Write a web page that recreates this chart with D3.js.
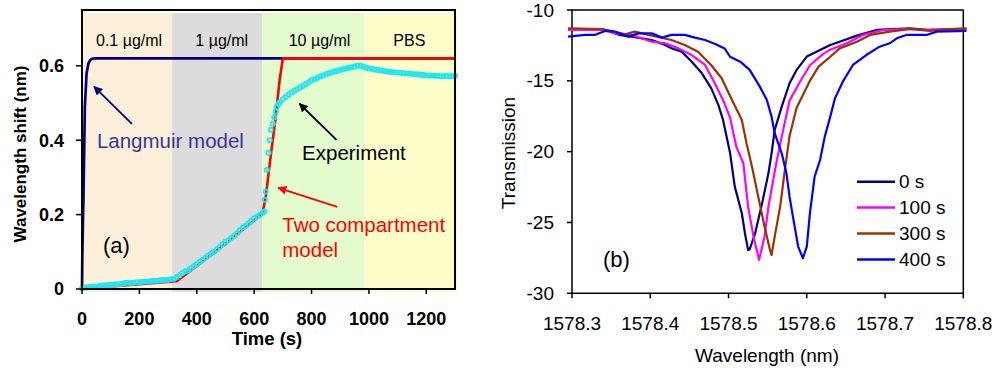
<!DOCTYPE html>
<html>
<head>
  <meta charset="UTF-8">
  <style>
    body { margin: 0; background: white; }
    svg { display: block; font-family: "Liberation Sans", Arial, sans-serif; }
    .frame { fill: none; stroke: black; }
    .tick { stroke: black; stroke-width: 1.5; }
  </style>
</head>
<body>
<svg id="chart" width="995" height="368"></svg>

<script src="https://d3js.org/d3.v7.min.js"></script>
<script>

// ---- panel (a) data ----
let timeTicks = [0, 200, 400, 600, 800, 1000, 1200];
let shiftTicks = [0, 0.2, 0.4, 0.6];

let phaseNames = ["0.1 \u00b5g/ml", "1 \u00b5g/ml", "10 \u00b5g/ml", "PBS"];
let phaseStart = [0, 314, 628, 984];
let phaseEnd = [314, 628, 984, 1308];
let phaseLabelTime = [164, 487, 828, 1141];

let langTime = [0, 1, 3, 5, 10, 16, 22, 28, 35, 45, 60, 1300];
let langShift = [0, 0.08, 0.17, 0.24, 0.49, 0.58, 0.605, 0.615, 0.619, 0.62, 0.62, 0.62];

let twoTime = [0, 100, 200, 330, 400, 500, 600, 628, 640, 656, 674, 689, 700, 1300];
let twoShift = [0, 0.007, 0.013, 0.021, 0.062, 0.121, 0.184, 0.202, 0.245, 0.347, 0.455, 0.563, 0.62, 0.62];

let expTime = [0, 10, 20, 30, 40, 50, 60, 70, 80, 90, 100, 110, 120, 130, 140, 150, 160, 170, 180, 190,
  200, 210, 220, 230, 240, 250, 260, 270, 280, 290, 300, 310, 320,
  330, 340, 350, 360, 370, 380, 390, 400, 410, 420, 430, 440, 450, 460, 470, 480, 490,
  500, 510, 520, 530, 540, 550, 560, 570, 580, 590, 600, 610, 620, 630, 635,
  637, 640, 644, 650, 654, 658, 665, 670, 675, 679,
  685, 690, 700, 710, 720, 730, 740, 750, 760, 770, 780, 790, 800, 810, 820, 830, 840, 850,
  860, 870, 880, 890, 900, 910, 920, 930, 940, 950, 960, 970, 980, 990, 1000, 1010, 1020,
  1030, 1040, 1050, 1060, 1070, 1080, 1090, 1100, 1110, 1120, 1130, 1140, 1150, 1160, 1170,
  1180, 1190, 1200, 1210, 1220, 1230, 1240, 1250, 1260, 1270, 1280, 1290, 1300];
let expShift = [0.002, 0.004, 0.005, 0.006, 0.007, 0.007, 0.008, 0.009, 0.010, 0.010, 0.011, 0.012, 0.013, 0.013, 0.014, 0.016, 0.017, 0.016, 0.017, 0.018,
  0.018, 0.019, 0.020, 0.020, 0.021, 0.022, 0.022, 0.023, 0.024, 0.024, 0.025, 0.026, 0.027,
  0.032, 0.037, 0.043, 0.048, 0.050, 0.056, 0.062, 0.067, 0.073, 0.078, 0.084, 0.090, 0.096, 0.101, 0.107, 0.113, 0.120,
  0.127, 0.131, 0.137, 0.143, 0.150, 0.158, 0.165, 0.170, 0.176, 0.183, 0.190, 0.195, 0.199, 0.205, 0.208,
  0.240, 0.262, 0.320, 0.366, 0.400, 0.428, 0.444, 0.462, 0.477, 0.489,
  0.497, 0.503, 0.510, 0.516, 0.522, 0.528, 0.533, 0.537, 0.542, 0.546, 0.551, 0.556, 0.561, 0.564, 0.567, 0.571, 0.574, 0.577,
  0.580, 0.582, 0.585, 0.587, 0.589, 0.591, 0.593, 0.595, 0.596, 0.598, 0.600, 0.600, 0.598, 0.595, 0.593, 0.592, 0.590,
  0.589, 0.588, 0.587, 0.585, 0.584, 0.583, 0.582, 0.582, 0.581, 0.580, 0.579, 0.579, 0.578, 0.577, 0.577,
  0.576, 0.575, 0.574, 0.574, 0.573, 0.573, 0.573, 0.572, 0.572, 0.573, 0.572, 0.572, 0.573];

// ---- panel (b) data ----
let wlTicks = [1578.3, 1578.4, 1578.5, 1578.6, 1578.7, 1578.8];
let trTicks = [-10, -15, -20, -25, -30];
let specNames = ["0 s", "100 s", "300 s", "400 s"];

let wl0 = [1578.295, 1578.342, 1578.360, 1578.376, 1578.402, 1578.419, 1578.427, 1578.440, 1578.453, 1578.466, 1578.478, 1578.487, 1578.493, 1578.502, 1578.508, 1578.517, 1578.521, 1578.525, 1578.527, 1578.534, 1578.542, 1578.551, 1578.555, 1578.559, 1578.568, 1578.578, 1578.587, 1578.600, 1578.617, 1578.630, 1578.642, 1578.664, 1578.689, 1578.732, 1578.757, 1578.780, 1578.804];
let tr0 = [-11.34, -11.41, -11.75, -11.88, -12.12, -12.47, -12.70, -12.94, -13.65, -14.47, -15.53, -16.70, -17.76, -20.10, -22.47, -24.35, -25.76, -26.94, -26.90, -25.76, -23.88, -21.53, -20.12, -18.47, -16.82, -15.17, -14.23, -13.29, -12.82, -12.47, -12.24, -11.81, -11.41, -11.29, -11.41, -11.36, -11.34];

let wl100 = [1578.295, 1578.342, 1578.355, 1578.376, 1578.402, 1578.419, 1578.436, 1578.453, 1578.470, 1578.480, 1578.493, 1578.502, 1578.510, 1578.519, 1578.525, 1578.532, 1578.539, 1578.546, 1578.551, 1578.561, 1578.568, 1578.578, 1578.591, 1578.604, 1578.621, 1578.630, 1578.651, 1578.672, 1578.698, 1578.727, 1578.749, 1578.804];
let tr100 = [-11.41, -11.41, -11.65, -11.76, -12.24, -12.35, -12.71, -13.18, -13.88, -14.9, -16.35, -17.6, -19.65, -20.82, -23.88, -26.00, -27.64, -26.00, -23.88, -20.82, -18.94, -16.4, -15.1, -13.9, -13.1, -12.8, -12.35, -11.76, -11.41, -11.34, -11.41, -11.34];

let wl300 = [1578.295, 1578.338, 1578.351, 1578.368, 1578.380, 1578.402, 1578.427, 1578.444, 1578.461, 1578.478, 1578.491, 1578.504, 1578.517, 1578.523, 1578.530, 1578.538, 1578.546, 1578.553, 1578.555, 1578.559, 1578.566, 1578.572, 1578.578, 1578.587, 1578.604, 1578.615, 1578.630, 1578.642, 1578.664, 1578.681, 1578.706, 1578.732, 1578.757, 1578.780, 1578.804];
let tr300 = [-11.29, -11.34, -11.48, -11.72, -11.53, -11.81, -12.12, -12.47, -12.94, -13.9, -14.8, -16.3, -17.76, -19.41, -21.06, -23.18, -25.29, -26.94, -27.30, -26.00, -23.88, -21.29, -18.9, -16.9, -15.0, -14.0, -13.3, -12.71, -12.24, -11.76, -11.53, -11.34, -11.48, -11.35, -11.29];

let wl400 = [1578.295, 1578.317, 1578.329, 1578.342, 1578.355, 1578.372, 1578.385, 1578.402, 1578.415, 1578.427, 1578.444, 1578.457, 1578.470, 1578.483, 1578.495, 1578.502, 1578.515, 1578.527, 1578.540, 1578.549, 1578.555, 1578.559, 1578.568, 1578.574, 1578.578, 1578.583, 1578.589, 1578.595, 1578.600, 1578.604, 1578.610, 1578.617, 1578.623, 1578.630, 1578.636, 1578.646, 1578.659, 1578.676, 1578.693, 1578.706, 1578.715, 1578.727, 1578.753, 1578.766, 1578.804];
let tr400 = [-11.88, -11.76, -11.76, -11.48, -11.53, -11.88, -11.65, -11.65, -11.95, -11.76, -11.76, -11.95, -12.12, -12.40, -12.71, -13.3, -13.65, -14.23, -15.41, -16.35, -17.53, -18.70, -20.12, -21.53, -23.18, -24.82, -26.70, -27.52, -26.70, -24.35, -21.76, -20.59, -18.94, -17.53, -16.24, -15.06, -13.88, -13.18, -12.59, -12.35, -12.00, -11.76, -11.76, -11.53, -11.48];

// ---- styles ----
let phaseColors = ["#fdf0da", "#dcdcdc", "#e4fbcd", "#fefecb"];
let specColors = ["#000080", "#ff00ff", "#993300", "#0000ff"];
let tickFont = 18;

let svg = d3.select("#chart");

// arrow heads
let defs = svg.append("defs");
[["arrNavy", "#000080"], ["arrBlack", "black"], ["arrRed", "#ff0000"]].forEach(a => {
  defs.append("marker")
    .attr("id", a[0])
    .attr("viewBox", "0 0 10 10")
    .attr("refX", 9).attr("refY", 5)
    .attr("markerWidth", 5).attr("markerHeight", 5)
    .attr("orient", "auto")
    .append("path")
    .attr("d", "M0,0 L10,5 L0,10 z")
    .attr("fill", a[1]);
});

/* ================= panel (a) ================= */
let xA = d3.scaleLinear().domain([0, 1300]).range([82, 455]);
let yA = d3.scaleLinear().domain([0, 0.75]).range([289, 10]);

let gA = svg.append("g");

// concentration phases
gA.selectAll("rect.phase")
  .data(phaseNames)
  .enter()
  .append("rect")
  .attr("class", "phase")
  .attr("x", (d, i) => xA(phaseStart[i]))
  .attr("width", (d, i) => xA(phaseEnd[i]) - xA(phaseStart[i]))
  .attr("y", 13)
  .attr("height", 279)
  .attr("fill", (d, i) => phaseColors[i]);

gA.selectAll("text.phase")
  .data(phaseNames)
  .enter()
  .append("text")
  .attr("x", (d, i) => xA(phaseLabelTime[i]))
  .attr("y", 45.5)
  .attr("text-anchor", "middle")
  .attr("font-size", 16)
  .text(d => d);

let lineA = d3.line().x(d => xA(d[0])).y(d => yA(d[1]));

gA.append("path")
  .datum(langTime.map((t, i) => [t, langShift[i]]))
  .attr("d", lineA)
  .attr("fill", "none")
  .attr("stroke", "#000080")
  .attr("stroke-width", 2.7)
  .attr("stroke-linejoin", "round");

gA.append("path")
  .datum(twoTime.map((t, i) => [t, twoShift[i]]))
  .attr("d", lineA)
  .attr("fill", "none")
  .attr("stroke", "#ff0000")
  .attr("stroke-width", 2.6)
  .attr("stroke-linejoin", "round");

gA.selectAll("circle.exp")
  .data(expTime.map((t, i) => [t, expShift[i]]))
  .enter()
  .append("circle")
  .attr("cx", d => xA(d[0]))
  .attr("cy", d => yA(d[1]))
  .attr("r", 2.1)
  .attr("fill", "none")
  .attr("stroke", "#1fe6f0")
  .attr("stroke-width", 1.8);

// frame + axes
gA.append("path")
  .attr("class", "frame")
  .attr("stroke-width", 2)
  .attr("d", `M${xA(0)},${yA(0)} V${yA(0.75)} H${xA(1300)} V${yA(0)} Z`);

gA.selectAll("line.ty")
  .data(shiftTicks).enter().append("line")
  .attr("class", "tick")
  .attr("x1", xA(0) - 6).attr("x2", xA(0))
  .attr("y1", d => yA(d)).attr("y2", d => yA(d));
gA.selectAll("text.ty")
  .data(shiftTicks).enter().append("text")
  .attr("x", 64).attr("y", d => yA(d)).attr("dy", "0.35em")
  .attr("text-anchor", "end")
  .attr("font-size", tickFont).attr("font-weight", "bold")
  .text(d => d);

gA.selectAll("line.tx")
  .data(timeTicks).enter().append("line")
  .attr("class", "tick")
  .attr("x1", d => xA(d)).attr("x2", d => xA(d))
  .attr("y1", yA(0)).attr("y2", yA(0) + 5);
gA.selectAll("text.tx")
  .data(timeTicks).enter().append("text")
  .attr("x", d => xA(d)).attr("y", 325)
  .attr("text-anchor", "middle")
  .attr("font-size", tickFont).attr("font-weight", "bold")
  .text(d => d);

gA.append("text")
  .attr("x", 267).attr("y", 345)
  .attr("text-anchor", "middle")
  .attr("font-size", 18.5).attr("font-weight", "bold")
  .text("Time (s)");

gA.append("text")
  .attr("transform", "translate(25.5,154) rotate(-90)")
  .attr("text-anchor", "middle")
  .attr("font-size", 17).attr("font-weight", "bold")
  .text("Wavelength shift (nm)");

// annotations
function arrow(g, from, to, color, id) {
  g.append("line")
    .attr("x1", xA(from[0])).attr("y1", yA(from[1]))
    .attr("x2", xA(to[0])).attr("y2", yA(to[1]))
    .attr("stroke", color).attr("stroke-width", 1.8)
    .attr("marker-end", `url(#${id})`);
}
arrow(gA, [174, 0.444], [42, 0.544], "#000080", "arrNavy");
arrow(gA, [887, 0.401], [758, 0.498], "black", "arrBlack");
arrow(gA, [890, 0.221], [684, 0.272], "#ff0000", "arrRed");

gA.append("text").attr("x", xA(52)).attr("y", yA(0.38))
  .attr("font-size", 20.5).attr("fill", "#36369e").text("Langmuir model");
gA.append("text").attr("x", xA(767)).attr("y", yA(0.347))
  .attr("font-size", 20.5).attr("fill", "black").text("Experiment");
gA.append("text").attr("x", xA(698)).attr("y", yA(0.153))
  .attr("font-size", 20.5).attr("fill", "#ff0000").text("Two compartment");
gA.append("text").attr("x", xA(698)).attr("y", yA(0.087))
  .attr("font-size", 20.5).attr("fill", "#ff0000").text("model");
gA.append("text").attr("x", 103).attr("y", 253)
  .attr("font-size", 22).text("(a)");

/* ================= panel (b) ================= */
let xB = d3.scaleLinear().domain([1578.3, 1578.8]).range([572, 963.3]);
let yB = d3.scaleLinear().domain([-30, -10]).range([293.3, 10]);

let gB = svg.append("g");

let series = [
  wl0.map((w, i) => [w, tr0[i]]),
  wl100.map((w, i) => [w, tr100[i]]),
  wl300.map((w, i) => [w, tr300[i]]),
  wl400.map((w, i) => [w, tr400[i]])
];

gB.append("path")
  .attr("class", "frame")
  .attr("stroke-width", 1.5)
  .attr("d", `M${xB(1578.3)},${yB(-30)} V${yB(-10)} H${xB(1578.8)} V${yB(-30)} Z`);

let lineB = d3.line().x(d => xB(d[0])).y(d => yB(d[1]));

gB.selectAll("path.spec")
  .data(series)
  .enter()
  .append("path")
  .attr("class", "spec")
  .attr("d", lineB)
  .attr("fill", "none")
  .attr("stroke", (d, i) => specColors[i])
  .attr("stroke-width", 2.2)
  .attr("stroke-linejoin", "round");

gB.selectAll("line.ty")
  .data(trTicks).enter().append("line")
  .attr("class", "tick")
  .attr("x1", xB(1578.3) - 5).attr("x2", xB(1578.3))
  .attr("y1", d => yB(d)).attr("y2", d => yB(d));
gB.selectAll("text.ty")
  .data(trTicks).enter().append("text")
  .attr("x", 554).attr("y", d => yB(d)).attr("dy", "0.35em")
  .attr("text-anchor", "end")
  .attr("font-size", 19)
  .text(d => d);

gB.selectAll("line.tx")
  .data(wlTicks).enter().append("line")
  .attr("class", "tick")
  .attr("x1", d => xB(d)).attr("x2", d => xB(d))
  .attr("y1", yB(-30)).attr("y2", yB(-30) + 5);
gB.selectAll("text.tx")
  .data(wlTicks).enter().append("text")
  .attr("x", d => xB(d)).attr("y", 330)
  .attr("text-anchor", "middle")
  .attr("font-size", 19)
  .text(d => d3.format(".1f")(d));

gB.append("text")
  .attr("x", 767).attr("y", 362)
  .attr("text-anchor", "middle")
  .attr("font-size", 19)
  .text("Wavelength (nm)");

gB.append("text")
  .attr("transform", "translate(515,153) rotate(-90)")
  .attr("text-anchor", "middle")
  .attr("font-size", 19)
  .text("Transmission");

gB.append("text").attr("x", 603).attr("y", 267)
  .attr("font-size", 22).text("(b)");

// legend
let legend = gB.selectAll("g.leg")
  .data(specNames)
  .enter()
  .append("g")
  .attr("transform", (d, i) => `translate(857,${181.7 + i * 25.9})`);
legend.append("line")
  .attr("x1", 0).attr("x2", 38)
  .attr("stroke", (d, i) => specColors[i])
  .attr("stroke-width", 2.5);
legend.append("text")
  .attr("x", 42).attr("dy", "0.35em")
  .attr("font-size", 19)
  .text(d => d);

</script>
</body>
</html>
